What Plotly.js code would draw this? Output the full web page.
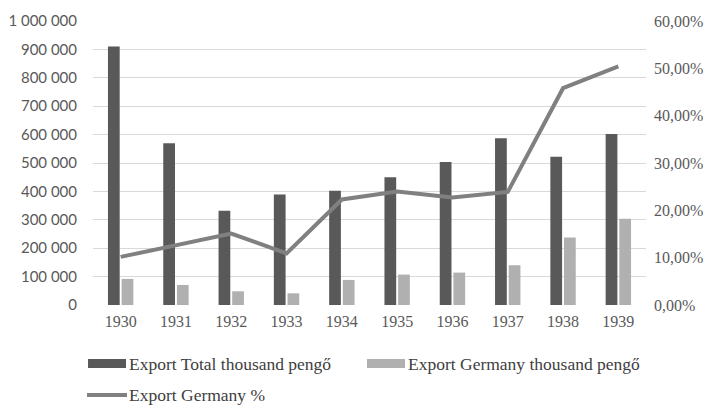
<!DOCTYPE html>
<html><head><meta charset="utf-8">
<script src="https://cdn.plot.ly/plotly-3.0.1.min.js"></script>
<style>html,body{margin:0;padding:0;background:#fff}#chart{width:720px;height:416px}</style>
</head><body><div id="chart"></div>
<script>
const years = ['1930','1931','1932','1933','1934','1935','1936','1937','1938','1939'];
const exportTotal = [910600, 569400, 331800, 389400, 402400, 449400, 503500, 587000, 522400, 602400];
const exportGermany = [91800, 70600, 48200, 41200, 88200, 107000, 114100, 140000, 237600, 303500];
const germanyPct = [0.1016, 0.126, 0.151, 0.109, 0.223, 0.240, 0.227, 0.239, 0.458, 0.504];
const seriesNames = ['Export Total thousand pengő', 'Export Germany thousand pengő', 'Export Germany %'];
const leftTicks = [0,100000,200000,300000,400000,500000,600000,700000,800000,900000,1000000];
const rightTicks = [0,0.1,0.2,0.3,0.4,0.5,0.6];

const cDark = '#595959', cLight = '#b0b0b0', cLine = '#808080';
const serif = 'Liberation Serif, serif';
const legFont = {family:serif, size:17.5, color:'#404040'};

const traces = [
  {type:'bar', x:years, y:exportTotal, name:seriesNames[0], marker:{color:cDark}, showlegend:false, hoverinfo:'none'},
  {type:'bar', x:years, y:exportGermany, name:seriesNames[1], marker:{color:cLight}, showlegend:false, hoverinfo:'none'},
  {type:'scatter', mode:'lines', x:years, y:germanyPct, yaxis:'y2', name:seriesNames[2],
   line:{color:cLine, width:4}, showlegend:false, hoverinfo:'none'}
];

// manual legend (swatches + text)
const shapes = [
  {type:'rect', xref:'paper', yref:'paper', x0:-0.009, x1:0.0597, y0:-0.2218, y1:-0.190, fillcolor:cDark, line:{width:0}},
  {type:'rect', xref:'paper', yref:'paper', x0:0.4955, x1:0.5642, y0:-0.2218, y1:-0.190, fillcolor:cLight, line:{width:0}},
  {type:'line', xref:'paper', yref:'paper', x0:-0.0108, x1:0.0615, y0:-0.3169, y1:-0.3169, line:{color:cLine, width:4}}
];
const annotations = [
  {xref:'paper', yref:'paper', x:0.062, y:-0.2077, xanchor:'left', yanchor:'middle', showarrow:false, text:seriesNames[0], font:legFont},
  {xref:'paper', yref:'paper', x:0.5665, y:-0.2077, xanchor:'left', yanchor:'middle', showarrow:false, text:seriesNames[1], font:legFont},
  {xref:'paper', yref:'paper', x:0.062, y:-0.3169, xanchor:'left', yanchor:'middle', showarrow:false, text:seriesNames[2], font:legFont}
];

const layout = {
  width:720, height:416,
  margin:{l:93, r:74, t:21, b:111},
  paper_bgcolor:'#fff', plot_bgcolor:'#fff',
  separators:', ',
  barmode:'group', bargap:0.506, bargroupgap:0.14,
  showlegend:false,
  xaxis:{type:'category', showgrid:false, zeroline:false, showline:false, ticks:'',
    tickfont:{family:serif, size:16, color:'#595959'}, ticklabelstandoff:5},
  yaxis:{range:[0,1000000], tickvals:leftTicks, tickformat:',d', showgrid:true, gridcolor:'#d9d9d9', gridwidth:1,
    zeroline:false, showline:false, ticks:'', tickfont:{family:'Lato, sans-serif', size:15, color:'#595959'}, ticklabelstandoff:15},
  yaxis2:{overlaying:'y', side:'right', range:[0,0.6], tickvals:rightTicks, tickformat:'.2%', showgrid:false,
    zeroline:false, showline:false, ticks:'', tickfont:{family:serif, size:16, color:'#595959'}, ticklabelstandoff:7},
  shapes:shapes, annotations:annotations
};
Plotly.newPlot('chart', traces, layout, {staticPlot:true, displayModeBar:false});
</script></body></html>
